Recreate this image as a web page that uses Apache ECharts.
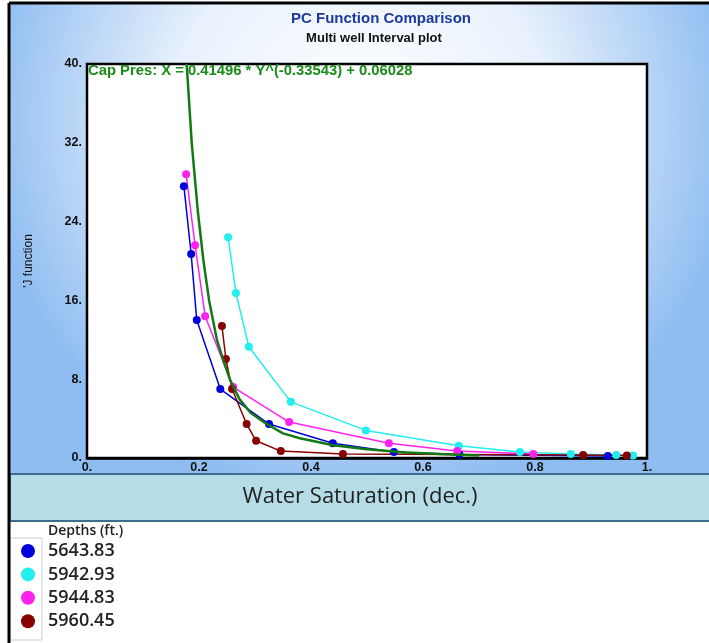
<!DOCTYPE html>
<html>
<head>
<meta charset="utf-8">
<script src="https://cdn.jsdelivr.net/npm/echarts@6/dist/echarts.min.js"></script>
<style>html,body{margin:0;padding:0;background:#fff;}#c{width:709px;height:643px;}</style>
</head>
<body>
<div id="c"></div>
<script>
// ---- data ----
var seriesNames = ['5643.83', '5942.93', '5944.83', '5960.45'];
var blueX = [0.173, 0.186, 0.196, 0.238, 0.325, 0.439, 0.548, 0.665, 0.93];
var blueY = [27.6, 20.7, 14.0, 7.0, 3.45, 1.5, 0.6, 0.35, 0.2];
var cyanX = [0.252, 0.266, 0.289, 0.364, 0.498, 0.664, 0.773, 0.864, 0.945, 0.975];
var cyanY = [22.4, 16.75, 11.3, 5.7, 2.8, 1.25, 0.6, 0.4, 0.3, 0.25];
var magentaX = [0.177, 0.193, 0.211, 0.261, 0.361, 0.539, 0.661, 0.797];
var magentaY = [28.8, 21.6, 14.4, 7.2, 3.65, 1.5, 0.7, 0.4];
var maroonX = [0.241, 0.248, 0.259, 0.285, 0.302, 0.346, 0.457, 0.886, 0.964];
var maroonY = [13.4, 10.05, 7.0, 3.45, 1.75, 0.7, 0.4, 0.3, 0.25];
// fitted curve as traced on the picture
var fitX = [0.178, 0.187, 0.198, 0.208, 0.218, 0.232, 0.243, 0.255, 0.272, 0.292, 0.318, 0.350, 0.380, 0.440, 0.500, 0.570, 0.650, 0.700];
var fitY = [40, 32, 25, 20, 16, 12, 10, 8, 6, 4.6, 3.55, 2.5, 2.0, 1.3, 0.9, 0.55, 0.35, 0.25];
var xTicks = [0, 0.2, 0.4, 0.6, 0.8, 1];
var yTicks = [0, 8, 16, 24, 32, 40];
var titleText = 'PC Function Comparison';
var subText = 'Multi well Interval plot';
var fitText = 'Cap Pres: X = 0.41496 * Y^(-0.33543) + 0.06028';
var xName = 'Water Saturation (dec.)';
var yName = "'J function";
var legendTitle = 'Depths (ft.)';

function zip(a, b) { return a.map(function (v, i) { return [v, b[i]]; }); }
function fmt(v) { return (Math.round(v) === v) ? (v + '.') : String(v); }

var colors = ['#0000dd', '#22eeee', '#ff22ee', '#880000'];
var ptSeries = [zip(blueX, blueY), zip(cyanX, cyanY), zip(magentaX, magentaY), zip(maroonX, maroonY)];

var chart = echarts.init(document.getElementById('c'), null, { renderer: 'canvas' });

var series = ptSeries.map(function (d, i) {
  return {
    name: seriesNames[i], type: 'line', data: d,
    symbol: 'circle', symbolSize: 8, z: 3,
    lineStyle: { color: colors[i], width: 1.5 },
    itemStyle: { color: colors[i] }
  };
});
series.push({
  name: 'fit', type: 'line', data: zip(fitX, fitY), smooth: false,
  symbol: 'none', z: 4, lineStyle: { color: '#137a13', width: 2.5, join: 'round' }
});

var option = {
  animation: false,
  backgroundColor: '#ffffff',
  graphic: [
    { type: 'rect', z: -10, shape: { x: 10, y: 4, width: 699, height: 470 },
      style: { fill: new echarts.graphic.RadialGradient(0.5, 0.25, 0.8, [
        { offset: 0, color: '#ffffff' }, { offset: 0.5, color: '#e8f1fc' }, { offset: 1, color: '#8fbdf1' }]) } },
    { type: 'rect', z: 10, shape: { x: 10, y: 474, width: 700, height: 47 },
      style: { fill: '#b6dde7', stroke: '#3f6d8e', lineWidth: 2 } },
    { type: 'rect', z: -5, shape: { x: 10, y: 538, width: 32, height: 102 },
      style: { fill: 'none', stroke: '#cfcfcf', lineWidth: 1 } },
    { type: 'line', z: 20, shape: { x1: 9, y1: 3, x2: 709, y2: 3 }, style: { stroke: '#000', lineWidth: 3 } },
    { type: 'line', z: 20, shape: { x1: 9, y1: 3, x2: 9, y2: 643 }, style: { stroke: '#000', lineWidth: 3 } },
    { type: 'text', z: 20, x: 381, y: 19, style: { text: titleText, fill: '#1c3c9c', font: 'bold 15px "Liberation Sans", Arial', align: 'center', verticalAlign: 'middle' } },
    { type: 'text', z: 20, x: 374, y: 38, style: { text: subText, fill: '#111', font: 'bold 13px "Liberation Sans", Arial', align: 'center', verticalAlign: 'middle' } },
    { type: 'text', z: 20, x: 88, y: 71, style: { text: fitText, fill: '#1a8c1a', font: 'bold 14.8px "Liberation Sans", Arial', align: 'left', verticalAlign: 'middle' } },
    { type: 'text', z: 20, x: 360, y: 497, style: { text: xName, fill: '#222', font: '22px "Open Sans"', align: 'center', verticalAlign: 'middle' } },
    { type: 'text', z: 20, x: 48, y: 531, style: { text: legendTitle, fill: '#222', font: '600 14px "Open Sans"', align: 'left', verticalAlign: 'middle' } }
  ],
  grid: { left: 87, top: 64, width: 560, height: 394, show: true, backgroundColor: '#fff', borderColor: '#000', borderWidth: 2.5, z: 2 },
  legend: {
    data: seriesNames, orient: 'vertical', left: 21, top: 542, height: 100, padding: 0,
    icon: 'circle', itemWidth: 14, itemHeight: 14, itemGap: 5.4,
    textStyle: { fontFamily: 'Open Sans', fontWeight: 600, fontSize: 18, color: '#222', padding: [0, 0, 0, 8] }
  },
  xAxis: {
    type: 'value', min: 0, max: 1, interval: 0.2,
    axisLine: { show: true, lineStyle: { color: '#000', width: 2.5 } },
    axisTick: { show: false },
    splitLine: { show: true, lineStyle: { color: '#cfcfcf', width: 2 } },
    axisLabel: { formatter: fmt, margin: 3, color: '#111', fontWeight: 'bold', fontSize: 12.5, fontFamily: 'Liberation Sans' }
  },
  yAxis: {
    type: 'value', min: 0, max: 40, interval: 8,
    name: yName, nameLocation: 'middle', nameRotate: 90, nameGap: 52,
    nameTextStyle: { fontSize: 12, color: '#111', fontFamily: 'Liberation Sans' },
    axisLine: { show: true, lineStyle: { color: '#000', width: 2.5 } },
    axisTick: { show: false },
    splitLine: { show: true, lineStyle: { color: '#cfcfcf', width: 2 } },
    axisLabel: { formatter: fmt, margin: 5, color: '#111', fontWeight: 'bold', fontSize: 12.5, fontFamily: 'Liberation Sans' }
  },
  series: series
};
chart.setOption(option);
</script>
</body>
</html>
